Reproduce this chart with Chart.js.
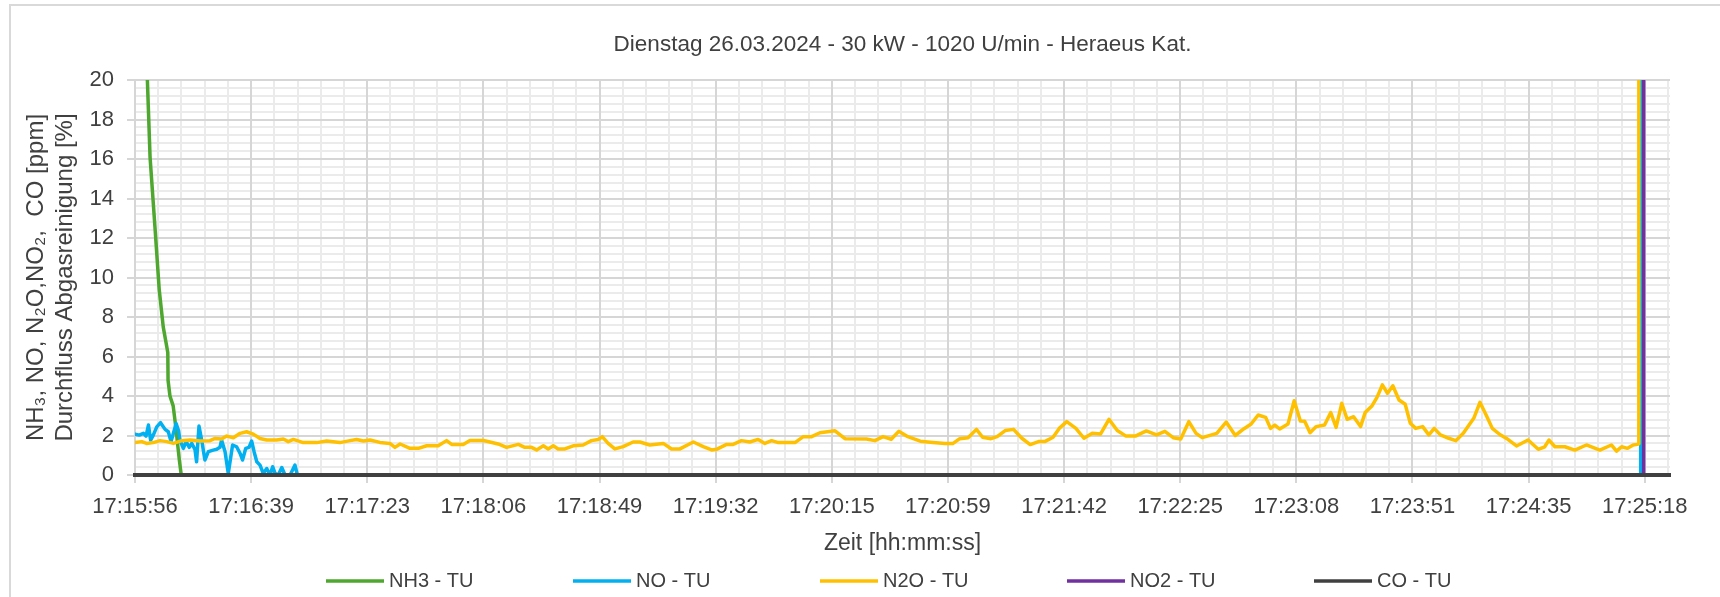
<!DOCTYPE html>
<html lang="de">
<head>
<meta charset="utf-8">
<title>Dienstag 26.03.2024 - 30 kW - 1020 U/min - Heraeus Kat.</title>
<script src="https://cdn.jsdelivr.net/npm/chart.js@4.4.1/dist/chart.umd.min.js"></script>
<style>
    html, body { margin: 0; padding: 0; background: #fff; }
    #wrap { position: relative; width: 1720px; height: 597px; }
</style>
</head>
<body>
<div id="wrap"><canvas id="emissionChart"></canvas></div>
<script>
// Time axis in seconds after 17:15:56.7 (Excel major unit 0.0005 d = 43.2 s)
const MAJOR_STEP = 43.2;
const MINOR_STEP = 8.64;
const X_MAX = 571;
const Y_MAX = 20;

const xTickLabels = ['17:15:56', '17:16:39', '17:17:23', '17:18:06', '17:18:49', '17:19:32', '17:20:15',
    '17:20:59', '17:21:42', '17:22:25', '17:23:08', '17:23:51', '17:24:35', '17:25:18'];

const seriesNames = ['NH3 - TU', 'NO - TU', 'N2O - TU', 'NO2 - TU', 'CO - TU'];
const seriesColors = ['#4EA72E', '#00B0F0', '#FFC000', '#7030A0', '#404040'];

// NH3
const nh3Time = [0, 1.5, 3.0, 4.4, 5.6, 7.4, 9.0, 10.5, 12.2, 12.3, 13.0, 14.2, 15.2, 16.5, 17.2, 559.5];
const nh3Ppm = [38, 31, 25.5, 20.8, 16.1, 12.6, 9.4, 7.5, 6.2, 4.8, 4.0, 3.5, 2.4, 0.75, 0, 0];

// NO
const noTime = [0, 1.6, 3.1, 4.1, 5.0, 5.8, 6.8, 8.1, 9.5, 11.2, 12.4, 13.4, 14.0, 15.3, 16.2,
    16.7, 18.0, 19.0, 20.2, 21.1, 22.3, 22.9, 23.8, 24.8, 26.0, 27.3, 29.1, 30.4, 31.6, 32.2,
    33.5, 34.7, 36.3, 37.8, 39.1, 40.0, 41.2, 42.4, 43.4, 44.3, 45.3, 46.5, 47.7, 49.0, 50.2,
    51.2, 52.1, 53.3, 54.6, 55.8, 57.7, 59.5, 60.4, 560.1, 560.6];
const noPpm = [2.07, 2.02, 2.11, 1.97, 2.53, 1.77, 2.02, 2.44, 2.65, 2.31, 2.19, 1.69, 1.97, 2.61, 2.24,
    1.77, 1.35, 1.69, 1.40, 1.60, 1.30, 0.67, 2.48, 1.77, 0.76, 1.18, 1.26, 1.30, 1.40, 1.77,
    1.18, 0.08, 1.52, 1.43, 1.09, 0.76, 1.35, 1.40, 1.72, 1.18, 0.67, 0.50, 0.08, 0.33, 0,
    0.42, 0.08, 0, 0.38, 0, 0, 0.50, 0, 0, 1000];

// N2O
const n2oTime = [0, 2.5, 4.3, 6.8, 9.3, 11.8, 14.3, 17.4, 20.5, 24.2, 27.9, 29.8, 32.2, 34.1, 36.6,
    39.1, 41.5, 44.0, 46.5, 49.0, 52.7, 55.2, 57.0, 58.9, 62.6, 67.6, 71.3, 76.2,
    80.0, 82.4, 85.0, 87.4, 91.1, 94.8, 96.7, 98.6, 102.3, 105.4, 108.5, 112.8, 115.9, 117.8,
    122.1, 124.6, 129.6, 132.0, 135.1, 138.2, 142.6, 145.0, 147.5, 149.4, 151.9, 153.7, 155.6,
    157.4, 159.9, 163.0, 166.7, 169.8, 172.3, 173.8, 176.0, 178.5, 181.6, 185.3, 187.8, 191.5,
    196.5, 199.6, 202.7, 207.7, 211.4, 214.5, 216.3, 220.1, 222.5, 225.6, 228.7, 231.8, 234.3,
    236.8, 239.3, 245.5, 248.6, 251.7, 254.8, 260.4, 264.1,
    272.1, 275.2, 278.3, 281.3, 284.1, 287.5, 292.1, 296.8, 301.4, 304.2, 306.8, 309.9, 313.0,
    315.3, 318.4, 320.7, 323.7, 326.8, 329.9, 333.0, 336.1, 338.4, 341.5, 343.8, 346.6, 350.0,
    353.0, 356.1, 359.2, 362.3, 365.4, 368.5, 372.3, 376.2, 380.0, 383.1, 386.2, 389.0, 392.0,
    394.7, 397.0, 402.4, 405.9, 409.3, 412.4, 415.2, 417.8, 420.6, 422.4, 424.0, 425.8, 428.9,
    431.2, 433.5, 435.1, 437.1, 439.4, 442.5, 444.8, 446.8, 448.9, 450.9, 453.3, 455.9, 457.6,
    460.2, 462.0, 464.0, 465.9, 467.9, 470.2, 472.5, 474.4, 476.4, 479.0, 481.3, 483.3, 485.6,
    488.7, 491.3, 494.1, 498.0, 500.3, 502.6, 504.9, 507.7,
    510.2, 513.9, 518.2, 522.0, 524.4, 526.0, 528.2, 531.9, 535.6, 539.9, 544.9, 549.2, 551.1,
    553.0, 555.2, 557.3, 558.8, 559.4, 559.9];
const n2oPpm = [1.64, 1.69, 1.60, 1.64, 1.74, 1.69, 1.60, 1.74, 1.77, 1.72, 1.74, 1.85, 1.82, 1.97, 1.89,
    2.11, 2.19, 2.07, 1.85, 1.77, 1.77, 1.82, 1.69, 1.80, 1.64, 1.64, 1.72, 1.64,
    1.74, 1.80, 1.72, 1.77, 1.65, 1.60, 1.40, 1.57, 1.35, 1.35, 1.48, 1.48, 1.74, 1.55,
    1.55, 1.75, 1.75, 1.67, 1.57, 1.40, 1.55, 1.40, 1.40, 1.27, 1.48, 1.32, 1.48,
    1.32, 1.32, 1.48, 1.52, 1.74, 1.80, 1.94, 1.60, 1.32, 1.44, 1.67, 1.67, 1.52,
    1.60, 1.32, 1.32, 1.67, 1.44, 1.27, 1.30, 1.55, 1.55, 1.74, 1.67, 1.80, 1.60,
    1.74, 1.64, 1.64, 1.94, 1.94, 2.14, 2.24, 1.84,
    1.82, 1.74, 1.94, 1.81, 2.21, 1.94, 1.71, 1.65, 1.60, 1.59, 1.84, 1.89, 2.31,
    1.91, 1.84, 1.94, 2.25, 2.31, 1.86, 1.54, 1.69, 1.69, 1.91, 2.36, 2.70, 2.36,
    1.86, 2.11, 2.08, 2.82, 2.25, 1.98, 1.98, 2.23, 2.03, 2.21, 1.89, 1.82, 2.70,
    2.11, 1.89, 2.11, 2.68, 2.00, 2.33, 2.58, 3.04, 2.92, 2.36, 2.53, 2.33, 2.58,
    3.76, 2.73, 2.72, 2.14, 2.45, 2.53, 3.16, 2.41, 3.63, 2.82, 2.95, 2.45, 3.16,
    3.51, 3.93, 4.56, 4.14, 4.52, 3.80, 3.58, 2.62, 2.36, 2.45, 2.03, 2.36, 2.03,
    1.86, 1.74, 2.11, 2.87, 3.68, 3.04, 2.36, 2.05,
    1.85, 1.47, 1.77, 1.30, 1.43, 1.77, 1.43, 1.43, 1.26, 1.52, 1.26, 1.52, 1.21,
    1.43, 1.35, 1.52, 1.55, 1.58, 1000];

// NO2
const no2Time = [0, 561.2, 561.7];
const no2Ppm = [0, 0, 1000];

// CO
const coTime = [0, 559.5];
const coPpm = [0, 0];

function toPoints(times, values) {
    return times.map((t, i) => ({ x: t, y: values[i] }));
}

const seriesData = [
    toPoints(nh3Time, nh3Ppm),
    toPoints(noTime, noPpm),
    toPoints(n2oTime, n2oPpm),
    toPoints(no2Time, no2Ppm),
    toPoints(coTime, coPpm)
];

const FONT = '"Liberation Sans", Arial, sans-serif';
const TEXT_COLOR = '#404040';
Chart.defaults.font.family = FONT;
Chart.defaults.color = TEXT_COLOR;

function stepTicks(max, step) {
    const ticks = [];
    for (let k = 0; k * step <= max + 1e-9; k++) {
        ticks.push({ value: +(k * step).toFixed(3) });
    }
    return ticks;
}

// white background + light chart-area frame like in Excel
const chartFrame = {
    id: 'chartFrame',
    beforeDraw(chart) {
        const ctx = chart.ctx;
        ctx.save();
        ctx.fillStyle = '#ffffff';
        ctx.fillRect(0, 0, chart.width, chart.height);
        ctx.strokeStyle = '#d9d9d9';
        ctx.lineWidth = 2;
        ctx.strokeRect(10, 5, chart.width, chart.height);
        ctx.restore();
    }
};

// legend with evenly spaced entries at the bottom
const bottomLegend = {
    id: 'bottomLegend',
    afterDraw(chart) {
        const ctx = chart.ctx;
        const y = 581;
        ctx.save();
        ctx.font = '20px ' + FONT;
        ctx.textBaseline = 'middle';
        ctx.fillStyle = TEXT_COLOR;
        chart.data.datasets.forEach((ds, i) => {
            const x0 = 326 + i * 247;
            ctx.strokeStyle = ds.borderColor;
            ctx.lineWidth = 3.5;
            ctx.beginPath();
            ctx.moveTo(x0, y);
            ctx.lineTo(x0 + 58, y);
            ctx.stroke();
            ctx.fillText(ds.label, x0 + 63, y);
        });
        ctx.restore();
    }
};

new Chart(document.getElementById('emissionChart'), {
    type: 'line',
    data: {
        datasets: seriesNames.map((name, i) => ({
            label: name,
            data: seriesData[i],
            borderColor: seriesColors[i],
            backgroundColor: seriesColors[i],
            borderWidth: 3.5,
            pointRadius: 0,
            tension: 0,
            borderJoinStyle: 'round',
            borderCapStyle: 'round',
            xAxisID: 'x',
            yAxisID: 'y',
            order: seriesNames.length - i
        }))
    },
    options: {
        responsive: true,
        maintainAspectRatio: false,
        animation: false,
        layout: {
            padding: { top: 0, right: 50, bottom: 40, left: 0 }
        },
        plugins: {
            legend: { display: false },
            tooltip: { enabled: false },
            title: {
                display: true,
                fullSize: false,
                text: 'Dienstag 26.03.2024 - 30 kW - 1020 U/min - Heraeus Kat.',
                color: TEXT_COLOR,
                font: { size: 22.5, weight: 'normal' },
                padding: { top: 31, bottom: 22 }
            }
        },
        scales: {
            xMinor: {
                type: 'linear',
                axis: 'x',
                position: 'bottom',
                min: 0,
                max: X_MAX,
                bounds: 'data',
                afterBuildTicks: axis => { axis.ticks = stepTicks(X_MAX, MINOR_STEP); },
                afterFit: axis => { axis.height = 0; },
                ticks: { display: false },
                grid: { color: '#ebebeb', lineWidth: 2, drawTicks: false, z: -2 },
                border: { display: false }
            },
            yMinor: {
                type: 'linear',
                axis: 'y',
                position: 'left',
                min: 0,
                max: Y_MAX,
                bounds: 'data',
                afterBuildTicks: axis => { axis.ticks = stepTicks(Y_MAX, 0.4); },
                afterFit: axis => { axis.width = 0; },
                ticks: { display: false },
                grid: { color: '#ebebeb', lineWidth: 2, drawTicks: false, z: -2 },
                border: { display: false }
            },
            x: {
                type: 'linear',
                axis: 'x',
                position: 'bottom',
                min: 0,
                max: X_MAX,
                bounds: 'data',
                afterBuildTicks: axis => {
                    axis.ticks = xTickLabels.map((_, i) => ({ value: i * MAJOR_STEP }));
                },
                afterFit: axis => { axis.height = 82; },
                ticks: {
                    autoSkip: false,
                    maxRotation: 0,
                    padding: 11,
                    color: TEXT_COLOR,
                    font: { size: 22 },
                    callback: (value, index) => xTickLabels[index]
                },
                grid: { color: '#d6d6d6', lineWidth: 2, tickLength: 8 },
                border: { color: '#404040', width: 4, z: 1 },
                title: {
                    display: true,
                    text: 'Zeit [hh:mm:ss]',
                    color: TEXT_COLOR,
                    font: { size: 23 },
                    padding: 0
                }
            },
            y: {
                type: 'linear',
                position: 'left',
                min: 0,
                max: Y_MAX,
                afterFit: axis => { axis.width = 135; },
                ticks: {
                    stepSize: 2,
                    padding: 13,
                    color: TEXT_COLOR,
                    font: { size: 22 }
                },
                grid: { color: '#d6d6d6', lineWidth: 2, tickLength: 8 },
                border: { color: '#d6d6d6', width: 2 },
                title: {
                    display: true,
                    text: ['NH₃, NO, N₂O,NO₂,  CO [ppm]', 'Durchfluss Abgasreinigung [%]'],
                    color: TEXT_COLOR,
                    font: { size: 24, lineHeight: 1.2 },
                    padding: { top: 22, bottom: 0 }
                }
            }
        }
    },
    plugins: [chartFrame, bottomLegend]
});
</script>
</body>
</html>
